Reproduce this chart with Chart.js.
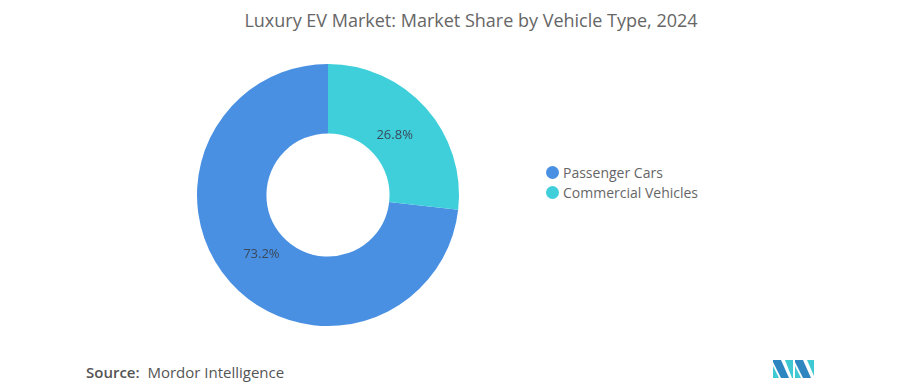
<!DOCTYPE html>
<html><head><meta charset="utf-8">
<script src="https://cdn.jsdelivr.net/npm/chart.js@4"></script>
<style>
html,body{margin:0;padding:0;background:#fff;width:901px;height:392px;overflow:hidden;font-family:"Open Sans",sans-serif;}
#title{position:absolute;left:0;width:942px;top:8px;text-align:center;font-size:18px;color:#666;}
#wrap{position:absolute;left:187px;top:54px;width:282px;height:282px;}
#legend{position:absolute;left:546px;top:162px;font-size:14px;color:#666;}
.li{display:flex;align-items:center;height:20px;}
.dot{width:13px;height:13px;border-radius:50%;margin-right:4px;}
#source{position:absolute;left:86px;top:362px;font-size:15px;color:#555;}
#logo{position:absolute;left:773px;top:358px;}
</style></head><body>
<div id="title">Luxury EV Market: Market Share by Vehicle Type, 2024</div>
<div id="wrap"><canvas id="c" width="282" height="282"></canvas></div>
<div id="legend"></div>
<div id="source"><b style="font-weight:600">Source:</b>&nbsp; Mordor Intelligence</div>
<svg id="logo" width="42" height="22" viewBox="0 0 42 22">
<polygon points="0,2 8,2 16,20 8,20 0,4" fill="#2e86c1"/>
<polygon points="0,8 6,20 0,20" fill="#3ec9d3"/>
<polygon points="12,2 20,2 20,20 19,20" fill="#3ec9d3"/>
<polygon points="22,2 30,2 38,20 30,20 22,4" fill="#2e86c1"/>
<polygon points="22,8 28,20 22,20" fill="#3ec9d3"/>
<polygon points="34,2 41,2 41,18" fill="#3ec9d3"/>
</svg>
<script>
const categories = ["Passenger Cars", "Commercial Vehicles"];
const shares = [73.2, 26.8];
const colors = ["#4a90e2", "#3ecfdb"];

const leg = document.getElementById('legend');
categories.forEach((c,i)=>{
  const d=document.createElement('div');d.className='li';
  d.innerHTML='<span class="dot" style="background:'+colors[i]+'"></span>'+c;
  leg.appendChild(d);
});

const labelPlugin = {
  id:'lbl',
  afterDatasetsDraw(chart){
    const ctx=chart.ctx;
    const meta=chart.getDatasetMeta(0);
    ctx.save();
    ctx.font='13px "Open Sans", sans-serif';
    ctx.fillStyle='#3a4a5a';
    ctx.textAlign='center';ctx.textBaseline='middle';
    meta.data.forEach((arc,i)=>{
      const p=arc.getProps(['x','y','startAngle','endAngle','innerRadius','outerRadius']);
      const a=(p.startAngle+p.endAngle)/2;
      const r=p.innerRadius+(p.outerRadius-p.innerRadius)*0.4;
      ctx.fillText(shares[i].toFixed(1)+'%', p.x+Math.cos(a)*r, p.y+Math.sin(a)*r);
    });
    ctx.restore();
  }
};

const total = shares.reduce((a,b)=>a+b,0);
new Chart(document.getElementById('c'),{
  type:'doughnut',
  data:{labels:categories,datasets:[{data:shares,backgroundColor:colors,borderWidth:0}]},
  options:{
    responsive:false,animation:false,cutout:'47%',
    rotation: shares[1]/total*360,
    circumference:360,
    layout:{padding:10},
    plugins:{legend:{display:false},tooltip:{enabled:false}}
  },
  plugins:[labelPlugin]
});
</script>
</body></html>
